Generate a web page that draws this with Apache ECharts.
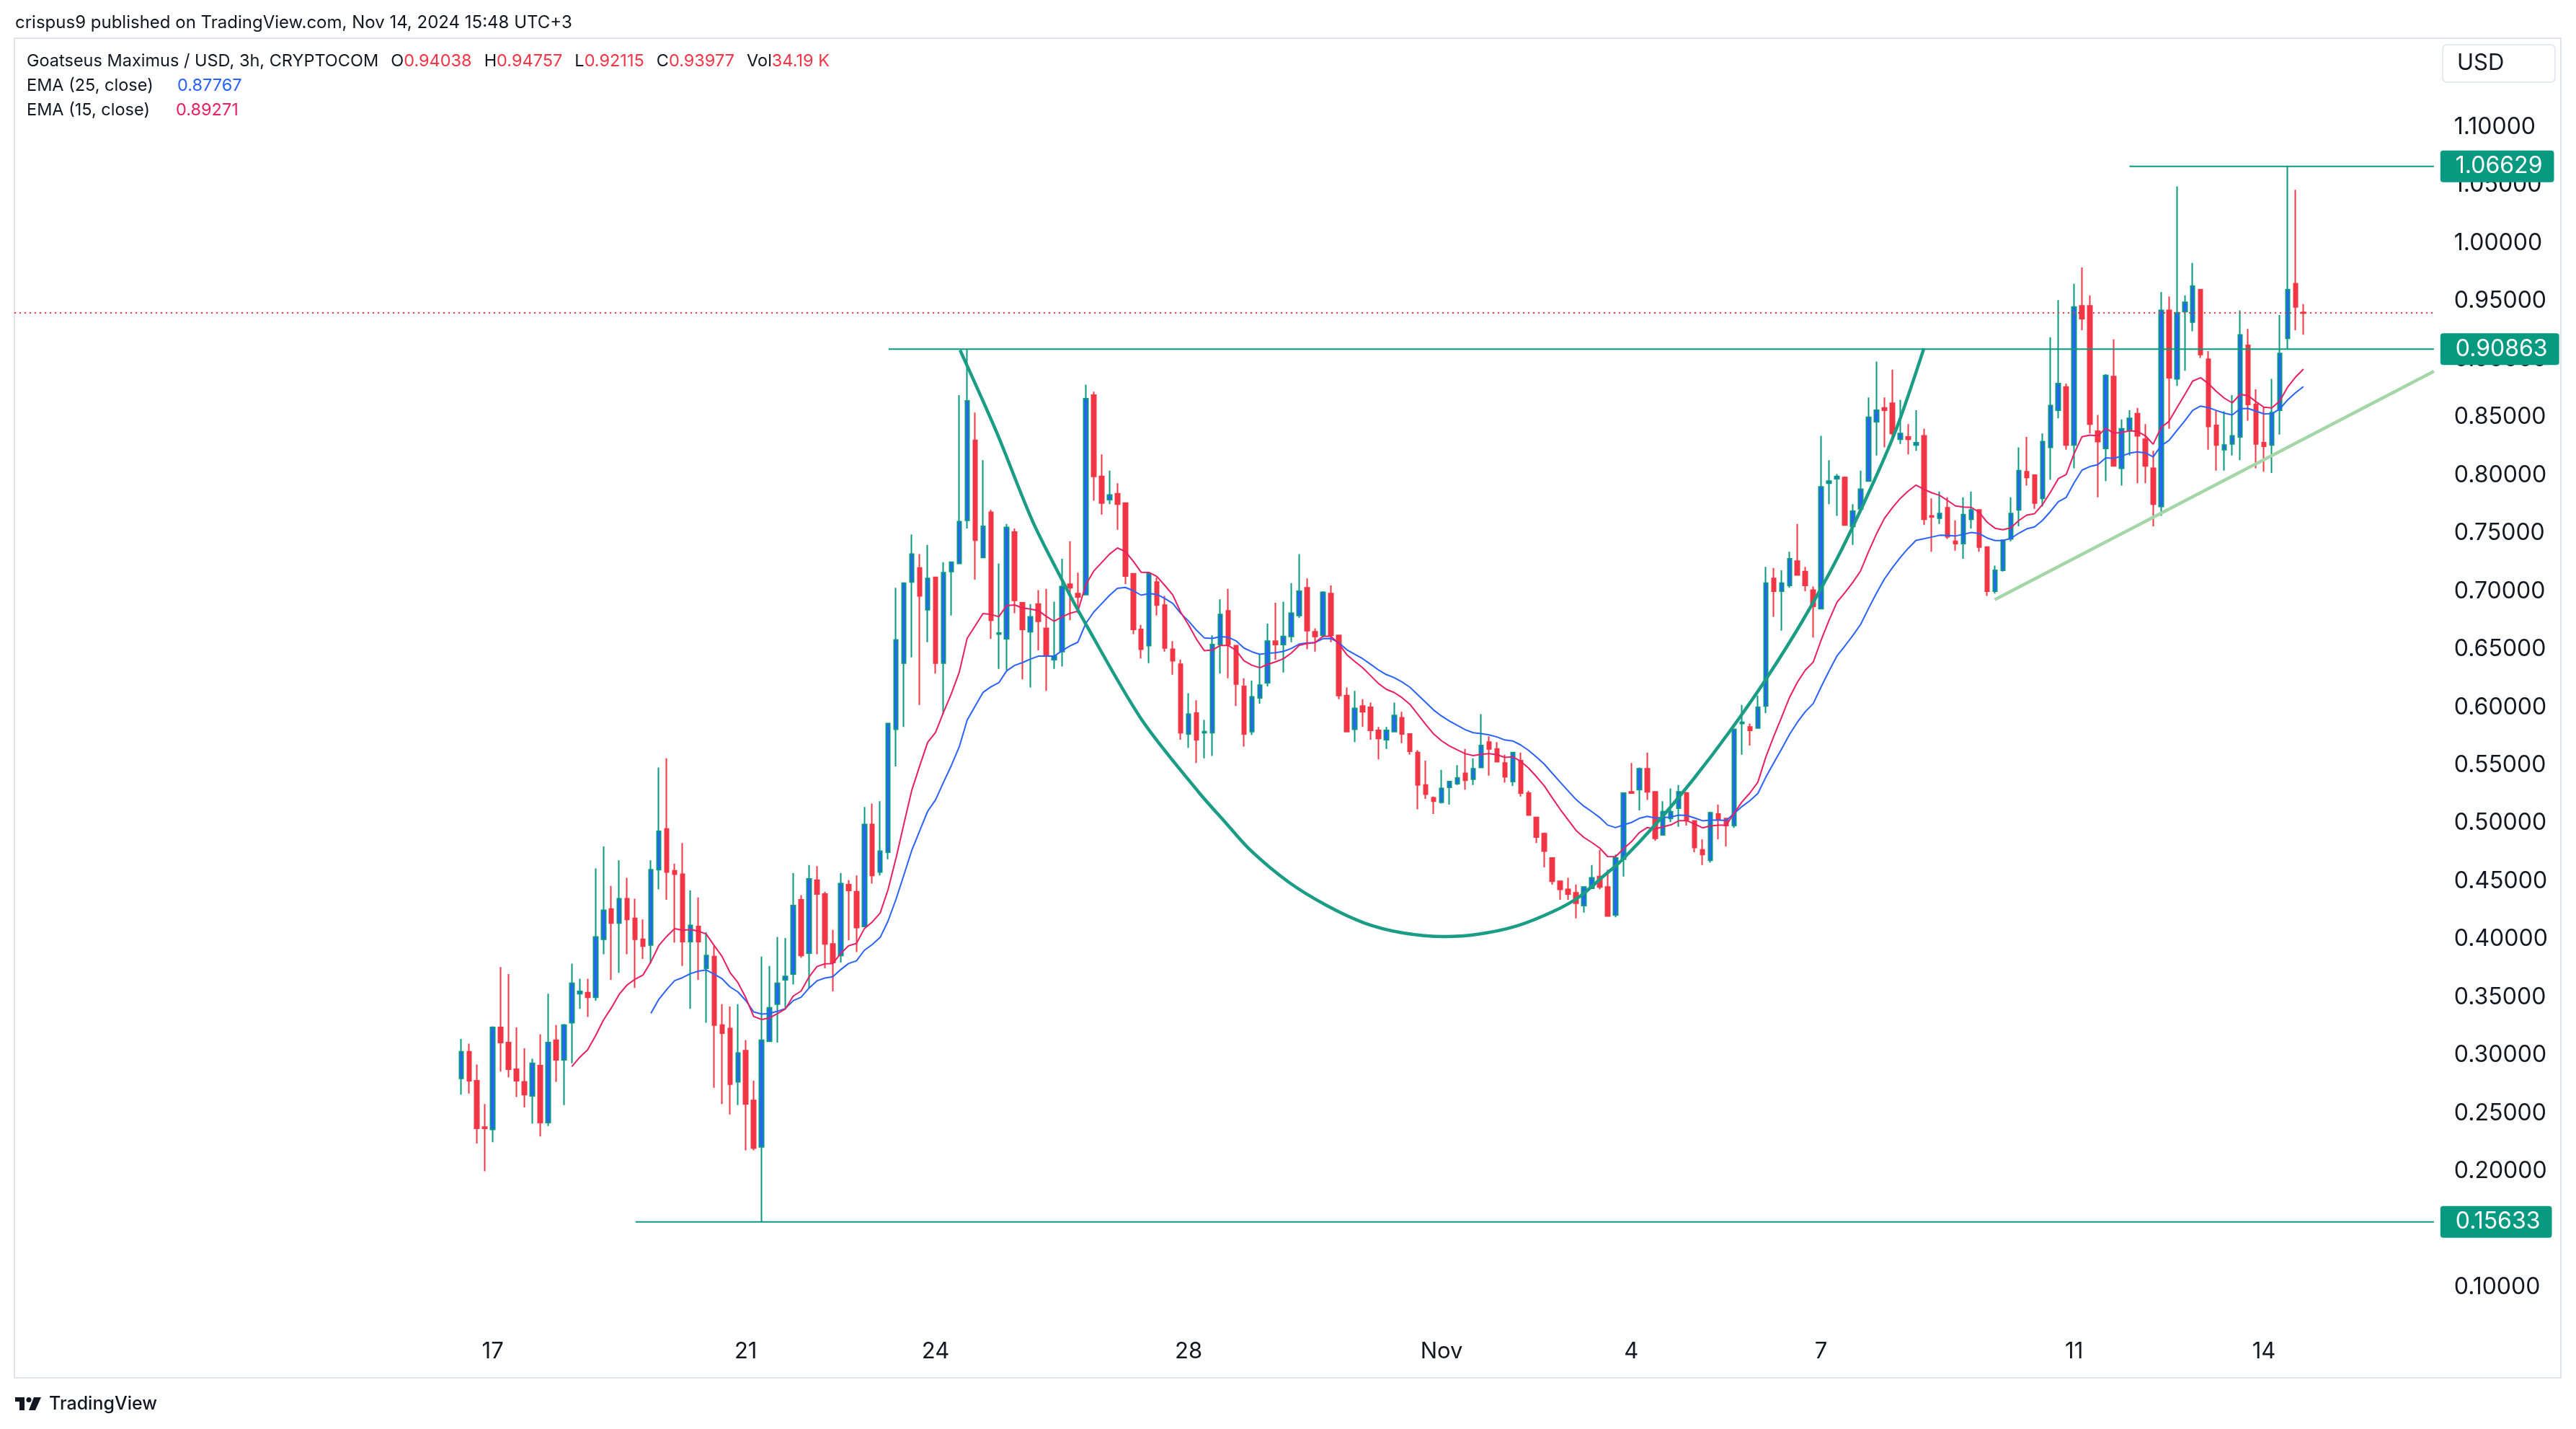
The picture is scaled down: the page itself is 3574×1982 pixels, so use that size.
<!DOCTYPE html>
<html><head><meta charset="utf-8">
<script src="https://cdn.jsdelivr.net/npm/echarts@6/dist/echarts.min.js"></script>
<style>html,body{margin:0;padding:0;background:#fff;}#chart{width:3574px;height:1982px;}</style>
</head><body><div id="chart"></div>
<script>
// ---- data (3h candles, GOAT/USD, Oct 16 12:00 -> Nov 14 15:00) ----
const candleOpen = [
0.280,0.303,0.278,0.238,0.236,0.324,0.311,0.288,0.277,0.265,
0.291,0.242,0.313,0.296,0.328,0.353,0.354,0.350,0.400,0.426,
0.414,0.435,0.418,0.400,0.395,0.460,0.495,0.459,0.456,0.398,
0.411,0.375,0.385,0.326,0.323,0.277,0.304,0.261,0.221,0.312,
0.344,0.365,0.370,0.434,0.388,0.451,0.439,0.396,0.386,0.447,
0.441,0.411,0.499,0.458,0.475,0.581,0.638,0.708,0.720,0.684,
0.712,0.638,0.717,0.724,0.761,0.830,0.729,0.768,0.663,0.659,
0.751,0.690,0.665,0.689,0.668,0.641,0.648,0.706,0.698,0.697,
0.869,0.799,0.779,0.784,0.776,0.715,0.667,0.653,0.708,0.688,
0.650,0.637,0.577,0.595,0.578,0.578,0.654,0.683,0.653,0.618,
0.579,0.608,0.621,0.657,0.654,0.661,0.679,0.703,0.665,0.662,
0.698,0.662,0.610,0.581,0.601,0.600,0.580,0.572,0.579,0.591,
0.577,0.561,0.533,0.522,0.518,0.531,0.534,0.543,0.538,0.548,
0.570,0.564,0.552,0.536,0.554,0.526,0.505,0.491,0.470,0.450,
0.443,0.440,0.429,0.444,0.454,0.445,0.421,0.469,0.527,0.529,
0.547,0.527,0.490,0.504,0.513,0.526,0.502,0.477,0.468,0.508,
0.504,0.498,0.586,0.583,0.582,0.601,0.711,0.700,0.705,0.726,
0.717,0.701,0.685,0.793,0.797,0.798,0.756,0.771,0.795,0.846,
0.858,0.862,0.831,0.833,0.826,0.834,0.765,0.763,0.772,0.743,
0.741,0.762,0.770,0.738,0.700,0.718,0.745,0.770,0.803,0.800,
0.780,0.824,0.856,0.876,0.826,0.946,0.946,0.838,0.823,0.885,
0.806,0.839,0.853,0.831,0.806,0.773,0.942,0.883,0.941,0.932,
0.960,0.900,0.843,0.822,0.827,0.833,0.912,0.861,0.828,0.826,
0.856,0.918,0.965,0.94038];
const candleHigh = [
0.314,0.310,0.292,0.258,0.325,0.376,0.370,0.324,0.306,0.297,
0.318,0.353,0.326,0.327,0.379,0.366,0.366,0.461,0.480,0.446,
0.468,0.453,0.435,0.417,0.468,0.548,0.556,0.465,0.483,0.442,
0.436,0.406,0.394,0.344,0.342,0.344,0.313,0.278,0.385,0.377,
0.402,0.401,0.457,0.438,0.464,0.463,0.441,0.408,0.457,0.451,
0.455,0.514,0.517,0.519,0.586,0.703,0.707,0.749,0.732,0.740,
0.712,0.725,0.725,0.869,0.9086,0.854,0.813,0.770,0.724,0.758,
0.754,0.690,0.689,0.701,0.702,0.691,0.728,0.743,0.716,0.878,
0.872,0.818,0.804,0.793,0.776,0.715,0.671,0.715,0.712,0.696,
0.657,0.641,0.612,0.606,0.589,0.662,0.693,0.702,0.653,0.625,
0.623,0.646,0.672,0.690,0.691,0.707,0.732,0.711,0.668,0.700,
0.705,0.662,0.617,0.614,0.607,0.604,0.583,0.583,0.604,0.596,
0.577,0.563,0.554,0.523,0.546,0.536,0.550,0.564,0.556,0.594,
0.575,0.570,0.559,0.561,0.561,0.528,0.505,0.492,0.470,0.450,
0.453,0.447,0.445,0.464,0.477,0.460,0.473,0.526,0.552,0.548,
0.561,0.527,0.519,0.530,0.533,0.527,0.502,0.486,0.510,0.516,
0.504,0.581,0.602,0.586,0.610,0.721,0.720,0.718,0.734,0.758,
0.721,0.704,0.834,0.813,0.801,0.799,0.775,0.804,0.867,0.898,
0.867,0.891,0.865,0.844,0.856,0.840,0.780,0.786,0.781,0.761,
0.781,0.786,0.770,0.738,0.722,0.744,0.781,0.824,0.833,0.800,
0.836,0.919,0.951,0.879,0.965,0.979,0.955,0.852,0.887,0.917,
0.848,0.856,0.858,0.844,0.821,0.958,0.954,1.049,0.955,0.983,
0.960,0.907,0.856,0.855,0.869,0.942,0.926,0.874,0.859,0.883,
0.938,1.06629,1.046,0.94757];
const candleLow = [
0.266,0.267,0.224,0.200,0.225,0.286,0.281,0.264,0.255,0.241,
0.230,0.239,0.277,0.257,0.293,0.340,0.333,0.347,0.387,0.365,
0.371,0.387,0.358,0.383,0.379,0.443,0.434,0.397,0.377,0.340,
0.365,0.328,0.272,0.258,0.249,0.257,0.218,0.218,0.15633,0.312,
0.311,0.341,0.361,0.384,0.358,0.387,0.375,0.355,0.380,0.399,
0.389,0.411,0.448,0.455,0.469,0.549,0.583,0.643,0.602,0.656,
0.629,0.594,0.679,0.724,0.754,0.710,0.729,0.659,0.633,0.632,
0.681,0.624,0.617,0.649,0.614,0.633,0.635,0.675,0.681,0.697,
0.778,0.766,0.775,0.753,0.706,0.663,0.642,0.638,0.679,0.648,
0.628,0.572,0.565,0.552,0.556,0.558,0.629,0.625,0.601,0.566,
0.576,0.603,0.618,0.641,0.630,0.656,0.677,0.650,0.648,0.660,
0.656,0.607,0.579,0.570,0.583,0.572,0.555,0.564,0.579,0.569,
0.559,0.512,0.521,0.508,0.517,0.516,0.533,0.529,0.533,0.548,
0.541,0.553,0.535,0.532,0.523,0.507,0.483,0.462,0.447,0.434,
0.434,0.418,0.423,0.444,0.443,0.420,0.419,0.454,0.526,0.511,
0.520,0.485,0.490,0.501,0.497,0.498,0.475,0.464,0.466,0.486,
0.480,0.496,0.559,0.567,0.582,0.595,0.678,0.666,0.703,0.714,
0.700,0.660,0.685,0.775,0.765,0.757,0.740,0.770,0.795,0.817,
0.824,0.829,0.827,0.818,0.821,0.757,0.734,0.758,0.745,0.735,
0.728,0.754,0.734,0.696,0.698,0.717,0.743,0.756,0.791,0.771,
0.773,0.796,0.849,0.822,0.806,0.925,0.836,0.781,0.795,0.808,
0.791,0.817,0.793,0.793,0.756,0.765,0.840,0.877,0.890,0.924,
0.901,0.822,0.804,0.804,0.817,0.813,0.847,0.806,0.803,0.802,
0.835,0.909,0.925,0.92115];
const candleClose = [
0.303,0.278,0.237,0.237,0.324,0.311,0.288,0.278,0.266,0.293,
0.242,0.311,0.296,0.326,0.362,0.355,0.350,0.402,0.425,0.414,
0.435,0.417,0.400,0.394,0.460,0.493,0.458,0.456,0.398,0.412,
0.398,0.386,0.326,0.319,0.275,0.302,0.258,0.220,0.313,0.341,
0.362,0.368,0.429,0.386,0.452,0.439,0.396,0.380,0.448,0.442,
0.410,0.499,0.455,0.476,0.586,0.658,0.707,0.732,0.696,0.711,
0.638,0.716,0.725,0.760,0.864,0.744,0.756,0.675,0.664,0.755,
0.692,0.667,0.678,0.674,0.644,0.644,0.704,0.703,0.695,0.866,
0.799,0.776,0.783,0.775,0.713,0.667,0.650,0.715,0.688,0.651,
0.640,0.578,0.594,0.572,0.579,0.654,0.680,0.654,0.620,0.577,
0.609,0.619,0.657,0.654,0.661,0.681,0.700,0.666,0.661,0.699,
0.662,0.610,0.579,0.599,0.596,0.580,0.573,0.580,0.593,0.577,
0.562,0.533,0.525,0.519,0.530,0.536,0.539,0.537,0.547,0.567,
0.564,0.553,0.540,0.561,0.526,0.507,0.488,0.476,0.450,0.443,
0.439,0.431,0.445,0.453,0.445,0.420,0.470,0.526,0.526,0.547,
0.527,0.487,0.510,0.510,0.527,0.503,0.479,0.473,0.509,0.503,
0.498,0.581,0.587,0.580,0.600,0.707,0.700,0.707,0.728,0.714,
0.705,0.687,0.790,0.795,0.799,0.757,0.769,0.788,0.850,0.856,
0.856,0.836,0.836,0.831,0.828,0.762,0.764,0.767,0.747,0.741,
0.766,0.770,0.738,0.700,0.718,0.744,0.767,0.804,0.798,0.776,
0.829,0.860,0.879,0.826,0.945,0.935,0.844,0.829,0.886,0.808,
0.840,0.849,0.834,0.808,0.775,0.942,0.884,0.940,0.949,0.963,
0.904,0.842,0.826,0.826,0.834,0.921,0.861,0.827,0.825,0.854,
0.905,0.960,0.945,0.93977];

// time-axis tick labels (candle index of each labelled day)
const tickIdx = [4, 36, 60, 92, 124, 148, 172, 204, 228];
const tickLabels = ["17", "21", "24", "28", "Nov", "4", "7", "11", "14"];

// price-axis range
const priceMin = 0.10, priceMax = 1.10, priceStep = 0.05;

// drawn levels (price, start candle index)
const levelPrices = [1.06629, 0.90863, 0.15633];
const levelStarts = [211.0, 54.06, 22.06];
const lastPrice = 0.93977;

// cup drawing (candle-index, price)
const cupX = [63.1,67.7,72.3,76.3,78.4,86.0,93.3,96.6,99.8,104.6,109.4,114.2,119.0,124.4,128.6,133.4,138.2,141.4,144.6,146.8,151.3,155.9,160.4,165.0,169.6,174.1,178.7,181.7,185.0];
const cupY = [0.9078,0.8374,0.7599,0.7058,0.6790,0.5900,0.5266,0.5011,0.4769,0.4495,0.4293,0.4141,0.4056,0.4023,0.4043,0.4112,0.4242,0.4365,0.4551,0.4682,0.5008,0.5384,0.5788,0.6239,0.6739,0.7292,0.7951,0.8433,0.9094];

// rising trend line (candle-index, price)
const trendX = [193.96, 249.5];
const trendY = [0.6927, 0.8896];

// ---- layout ----
const PAD_L = 56, N_CAT = 306, CAT_W = 10.97;
const nC = candleClose.length;

const categories = [];
for (let j = 0; j < N_CAT; j++) {
  const t = new Date(Date.UTC(2024, 9, 16, 12) + (j - PAD_L) * 3 * 3600e3);
  categories.push((t.getUTCMonth() + 1) + '-' + t.getUTCDate() + ' ' + t.getUTCHours() + ':00');
}
const candleData = [];
for (let j = 0; j < N_CAT; j++) {
  const i = j - PAD_L;
  if (i >= 0 && i < nC) candleData.push([candleOpen[i], candleClose[i], candleLow[i], candleHigh[i]]);
  else candleData.push('-');
}
function ema(vals, n) {
  const k = 2 / (n + 1), out = [];
  let prev = null;
  for (let i = 0; i < vals.length; i++) {
    if (i < n - 1) { out.push('-'); continue; }
    if (i === n - 1) { let s = 0; for (let m = 0; m < n; m++) s += vals[m]; prev = s / n; }
    else prev = vals[i] * k + prev * (1 - k);
    out.push(prev);
  }
  return out;
}
function padSeries(arr) {
  const out = [];
  for (let j = 0; j < N_CAT; j++) { const i = j - PAD_L; out.push(i >= 0 && i < arr.length ? arr[i] : '-'); }
  return out;
}
const ema25 = padSeries(ema(candleClose, 25));
const ema15 = padSeries(ema(candleClose, 15));

const FONT = 'Inter, "Noto Sans", sans-serif';
const TXT = '#131722';
const TEAL = '#089981';
const xMaxVal = N_CAT - PAD_L - 0.5;

const series = [
  {
    type: 'candlestick', xAxisIndex: 0, yAxisIndex: 0, data: candleData, barWidth: 6, z: 3,
    itemStyle: { color: '#2962FF', color0: '#F23645', borderColor: TEAL, borderColor0: '#F23645', borderWidth: 2 },
    markLine: {
      silent: true, symbol: ['none', 'none'], label: { show: false },
      lineStyle: { color: '#F23645', type: [2, 5], width: 2 },
      data: [{ yAxis: lastPrice }]
    }
  },
  { type: 'line', xAxisIndex: 0, yAxisIndex: 0, data: ema25, showSymbol: false, z: 4,
    lineStyle: { color: '#2962FF', width: 2 } },
  { type: 'line', xAxisIndex: 0, yAxisIndex: 0, data: ema15, showSymbol: false, z: 4,
    lineStyle: { color: '#E91E63', width: 2 } },
  { type: 'line', xAxisIndex: 1, yAxisIndex: 0, data: cupX.map((x, k) => [x, cupY[k]]), smooth: 0.3,
    showSymbol: false, z: 5, lineStyle: { color: '#1A9C85', width: 4.5 } },
  { type: 'line', xAxisIndex: 1, yAxisIndex: 0, data: trendX.map((x, k) => [x, trendY[k]]),
    showSymbol: false, z: 5, lineStyle: { color: '#A5D6A7', width: 4.5 } }
];
levelPrices.forEach((p, k) => {
  series.push({
    type: 'line', xAxisIndex: 1, yAxisIndex: 0, data: [[levelStarts[k], p], [xMaxVal, p]],
    showSymbol: false, z: 6, lineStyle: { color: TEAL, width: 2 },
    endLabel: {
      show: true, formatter: () => p.toFixed(5), distance: 9,
      backgroundColor: TEAL, color: '#ffffff', fontFamily: FONT, fontSize: 32,
      padding: [6, 16, 6, 21], borderRadius: 4
    }
  });
});

const chart = echarts.init(document.getElementById('chart'), null, { renderer: 'canvas' });
chart.setOption({
  animation: false,
  backgroundColor: '#ffffff',
  grid: { left: 20, top: 176.4, width: N_CAT * CAT_W, height: 1609 },
  xAxis: [
    {
      type: 'category', data: categories, boundaryGap: true,
      axisLine: { show: false }, axisTick: { show: false }, splitLine: { show: false },
      axisLabel: {
        interval: (idx) => tickIdx.indexOf(idx - PAD_L) >= 0,
        formatter: (v, idx) => { const k = tickIdx.indexOf(idx - PAD_L); return k >= 0 ? tickLabels[k] : ''; },
        margin: 89, verticalAlign: 'middle', color: TXT, fontFamily: FONT, fontSize: 31
      }
    },
    { type: 'value', min: -PAD_L - 0.5, max: xMaxVal, show: false }
  ],
  yAxis: [{
    type: 'value', position: 'right', min: priceMin, max: priceMax, interval: priceStep,
    axisLine: { show: false }, axisTick: { show: false }, splitLine: { show: false },
    axisLabel: { formatter: (v) => v.toFixed(5), margin: 28, color: TXT, fontFamily: FONT, fontSize: 32 }
  }],
  series: series,
  graphic: [
    { type: 'rect', z: 0, shape: { x: 20, y: 53, width: 3533, height: 1858 },
      style: { fill: 'none', stroke: '#E0E3EB', lineWidth: 2 } },
    { type: 'text', style: { x: 21, y: 32, text: 'crispus9 published on TradingView.com, Nov 14, 2024 15:48 UTC+3',
      fill: TXT, font: '24px ' + FONT, verticalAlign: 'middle' } },
    { type: 'text', style: { x: 37, y: 85, verticalAlign: 'middle', font: '23.5px ' + FONT, fill: TXT,
      text: '{t|Goatseus Maximus / USD, 3h, CRYPTOCOM}{s| }{k|O}{v|0.94038}{s| }{k|H}{v|0.94757}{s| }{k|L}{v|0.92115}{s| }{k|C}{v|0.93977}{s| }{k|Vol}{v|34.19 K}',
      rich: {
        t: { fill: TXT, font: '23.5px ' + FONT },
        s: { width: 17, font: '23.5px ' + FONT },
        k: { fill: TXT, font: '23.5px ' + FONT },
        v: { fill: '#F23645', font: '23.5px ' + FONT }
      } } },
    { type: 'text', style: { x: 37, y: 119, verticalAlign: 'middle', font: '23.5px ' + FONT, fill: TXT, text: 'EMA (25, close)' } },
    { type: 'text', style: { x: 246, y: 119, verticalAlign: 'middle', font: '23.5px ' + FONT, fill: '#2962FF', text: '0.87767' } },
    { type: 'text', style: { x: 37, y: 153, verticalAlign: 'middle', font: '23.5px ' + FONT, fill: TXT, text: 'EMA (15, close)' } },
    { type: 'text', style: { x: 244, y: 153, verticalAlign: 'middle', font: '23.5px ' + FONT, fill: '#E91E63', text: '0.89271' } },
    { type: 'rect', shape: { x: 3389, y: 62, width: 156, height: 52, r: 6 },
      style: { fill: '#ffffff', stroke: '#E0E3EB', lineWidth: 1.5 } },
    { type: 'text', style: { x: 3409, y: 88, verticalAlign: 'middle', font: '31px ' + FONT, fill: TXT, text: 'USD' } },
    // TradingView footer logo
    { type: 'rect', shape: { x: 21, y: 1938, width: 13, height: 6 }, style: { fill: TXT } },
    { type: 'rect', shape: { x: 27, y: 1938, width: 7, height: 18 }, style: { fill: TXT } },
    { type: 'circle', shape: { cx: 40, cy: 1941.5, r: 3.5 }, style: { fill: TXT } },
    { type: 'polygon', shape: { points: [[47, 1938], [57, 1938], [49, 1956], [40, 1956]] }, style: { fill: TXT } },
    { type: 'text', style: { x: 68, y: 1947, verticalAlign: 'middle', font: '500 25px ' + FONT, fill: TXT, text: 'TradingView' } }
  ]
});
</script></body></html>
